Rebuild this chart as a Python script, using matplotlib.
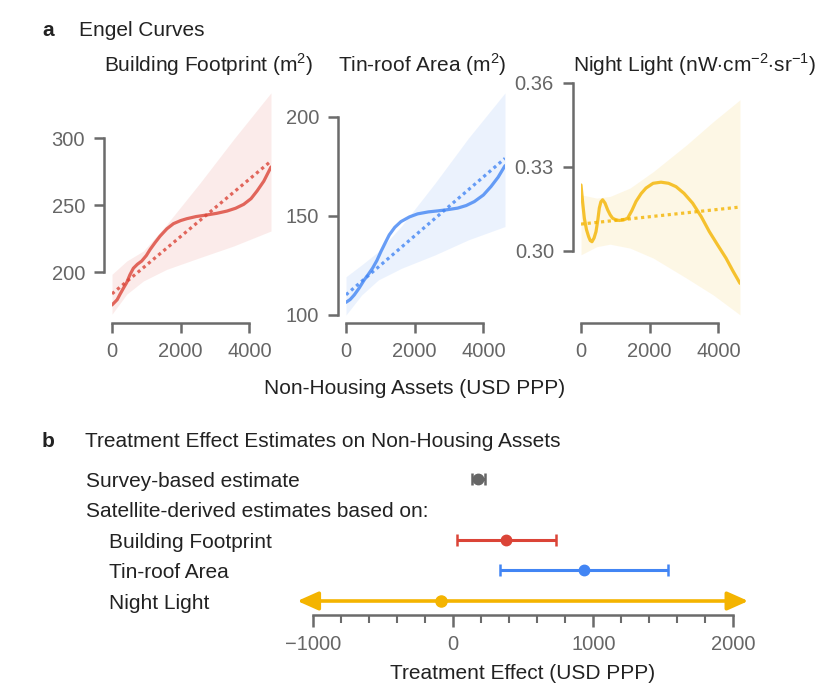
import numpy as np
import matplotlib
matplotlib.use("Agg")
import matplotlib.pyplot as plt
import matplotlib.transforms as mtransforms

plt.rcParams['font.family'] = ['Liberation Sans', 'DejaVu Sans']
plt.rcParams['mathtext.fontset'] = 'custom'
plt.rcParams['mathtext.rm'] = 'Liberation Sans'

W, H = 830, 692
fig = plt.figure(figsize=(W / 100, H / 100), dpi=100)

RED, BLUE, YELLOW, GREY = '#DB4437', '#4285F4', '#F4B400', '#666666'
SPINE = '#6b6b6b'
TXT = '#222222'

# ---------------- panel a data ----------------
fp_x = [0, 150, 234, 330, 428, 520, 622, 740, 866, 1000, 1109, 1250, 1401, 1600,
        1790, 2000, 2180, 2450, 2764, 3050, 3348, 3600, 3834, 4050, 4224, 4420, 4630]
fp_y = [175.6, 179.5, 183.6, 188, 192.3, 198, 203, 206, 208.4, 212.5, 217, 222, 227, 232.5,
        236.3, 238.6, 240, 241.6, 242.8, 244, 245.7, 247.8, 250.7, 255, 260.7, 268, 278.6]
fp_lin_x = [0, 4630]
fp_lin_y = [183.9, 283.0]
fp_band_x = [0, 428, 914, 1596, 2569, 3542, 4630]
fp_band_hi = [198.5, 208.4, 215.9, 235.8, 266.9, 299.3, 334.0]
fp_band_lo = [168.7, 183.6, 193.5, 202.2, 211.0, 219.6, 230.8]

tin_x = [0, 120, 240, 380, 531, 650, 774, 900, 1017, 1140, 1260, 1420, 1600, 1850,
         2086, 2400, 2669, 2950, 3250, 3500, 3737, 4000, 4223, 4430, 4630]
tin_y = [106.4, 107.8, 110.1, 113.5, 117.7, 120.5, 123.6, 127.5, 132, 136.3, 140.4, 144.2, 147.1, 149.5,
         151, 152, 152.5, 153.1, 153.9, 155.2, 157.2, 160.5, 164.8, 169.5, 175.3]
tin_lin_x = [0, 4630]
tin_lin_y = [110.2, 179.0]
tin_band_x = [0, 457, 943, 1622, 2592, 3564, 4630]
tin_band_hi = [119.3, 125.3, 132.0, 145.0, 166.5, 189.2, 212.0]
tin_band_lo = [100.0, 110.1, 117.7, 123.6, 130.3, 137.9, 144.6]

nl_x = [0, 50, 97, 160, 222, 270, 320, 380, 437, 490, 533, 580, 630, 700, 776, 850, 921,
        1020, 1115, 1240, 1358, 1480, 1602, 1750, 1893, 2100, 2330, 2550, 2767, 3000,
        3250, 3500, 3737, 3980, 4223, 4420, 4630]
nl_y = [0.3235, 0.3170, 0.3116, 0.3075, 0.3050, 0.3036, 0.3032, 0.3045, 0.3068, 0.3110,
        0.3152, 0.3175, 0.3182, 0.3170, 0.3146, 0.3128, 0.3116, 0.3110, 0.3108, 0.3110,
        0.3116, 0.3143, 0.3176, 0.3204, 0.3224, 0.3241, 0.3245, 0.3241, 0.3229, 0.3205,
        0.3170, 0.3122, 0.3068, 0.3020, 0.2973, 0.2928, 0.2883]
nl_lin_x = [0, 4630]
nl_lin_y = [0.3095, 0.3156]
nl_band_x = [0, 457, 845, 1427, 2107, 3078, 3853, 4630]
nl_band_hi = [0.3200, 0.3188, 0.3194, 0.3224, 0.3283, 0.3379, 0.3462, 0.3540]
nl_band_lo = [0.2985, 0.3014, 0.3023, 0.3009, 0.2973, 0.2901, 0.2841, 0.2770]

# ---------------- panel b data ----------------
row_labels = ['Survey-based estimate', 'Building Footprint', 'Tin-roof Area', 'Night Light']
row_pos = [4, 2, 1, 0]
est = [178, 376, 934, -90]
ci_lo = [133, 24, 333, -1114]
ci_hi = [228, 731, 1531, 2107]
row_colors = [GREY, RED, BLUE, YELLOW]


def px_axes(l, t, r, b):
    return fig.add_axes([l / W, 1 - b / H, (r - l) / W, (b - t) / H])


def style_axes(ax, xb, yb):
    for s in ['top', 'right']:
        ax.spines[s].set_visible(False)
    for s in ['left', 'bottom']:
        ax.spines[s].set_position(('outward', 6))
        ax.spines[s].set_linewidth(1.8)
        ax.spines[s].set_color(SPINE)
    ax.spines['bottom'].set_bounds(*xb)
    ax.spines['left'].set_bounds(*yb)
    ax.tick_params(length=7.5, width=1.8, color=SPINE, labelcolor='#666666',
                   labelsize=14.5, pad=6)
    ax.set_facecolor('none')


panels = [
    (112, 346, fp_x, fp_y, fp_lin_x, fp_lin_y, fp_band_x, fp_band_hi, fp_band_lo, RED,
     (168.1, 341.3), [200, 250, 300], None, 'Building Footprint (m$^2$)'),
    (346, 505, tin_x, tin_y, tin_lin_x, tin_lin_y, tin_band_x, tin_band_hi, tin_band_lo, BLUE,
     (100, 217), [100, 150, 200], None, 'Tin-roof Area (m$^2$)'),
    (581, 740, nl_x, nl_y, nl_lin_x, nl_lin_y, nl_band_x, nl_band_hi, nl_band_lo, YELLOW,
     (0.27696, 0.36), [0.30, 0.33, 0.36], '{:.2f}',
     'Night Light (nW$\\cdot$cm$^{-2}$$\\cdot$sr$^{-1}$)'),
]

for left, _, sx, sy, lx, ly, bx, bhi, blo, col, ylim, yt, fmt, title in panels:
    ax = px_axes(left, 83, left + 159, 315)
    ax.fill_between(bx, blo, bhi, color=col, alpha=0.1, lw=0)
    ax.plot(lx, ly, color=col, alpha=0.8, lw=2.3, linestyle=(0, (1, 1.1)))
    ax.plot(sx, sy, color=col, alpha=0.8, lw=2.3, solid_capstyle='round')
    ax.set_xlim(0, 4630)
    ax.set_ylim(*ylim)
    ax.set_xticks([0, 2000, 4000])
    ax.set_yticks(yt)
    if fmt:
        ax.set_yticklabels([fmt.format(v) for v in yt])
    style_axes(ax, (0, 4000), (yt[0], yt[-1]))
    fig.text((left - 8) / W, 1 - 72 / H, title, fontsize=15, color=TXT, va='baseline')

fig.text(42 / W, 1 - 36 / H, 'a', fontsize=15, fontweight='bold', color=TXT, va='baseline')
fig.text(79 / W, 1 - 36 / H, 'Engel Curves', fontsize=15, color=TXT, va='baseline')
fig.text(414.5 / W, 1 - 394 / H, 'Non-Housing Assets (USD PPP)', fontsize=15, color=TXT,
         va='baseline', ha='center')

# ---------------- panel b ----------------
axb = px_axes(296.5, 470, 749.4, 615)
axb.set_xlim(-1120, 2115)
axb.set_ylim(-0.459, 4.295)
for s in ['top', 'right', 'left']:
    axb.spines[s].set_visible(False)
axb.spines['bottom'].set_linewidth(1.8)
axb.spines['bottom'].set_color(SPINE)
axb.spines['bottom'].set_bounds(-1000, 2000)
axb.set_yticks([])
axb.set_xticks([-1000, 0, 1000, 2000])
axb.set_xticks(np.arange(-1000, 2001, 200), minor=True)
axb.tick_params(axis='x', which='major', length=8.5, width=1.8, color=SPINE,
                labelcolor='#666666', labelsize=14.5, pad=6)
axb.tick_params(axis='x', which='minor', length=5.5, width=1.5, color=SPINE)
axb.set_xlabel('Treatment Effect (USD PPP)', fontsize=15, color=TXT, labelpad=7)
axb.set_facecolor('none')

for i in range(3):
    axb.errorbar(est[i], row_pos[i], xerr=[[est[i] - ci_lo[i]], [ci_hi[i] - est[i]]],
                 fmt='o', color=row_colors[i], ms=7.5, elinewidth=2.2, capsize=4,
                 capthick=1.8, clip_on=False)

axb.annotate('', xy=(ci_lo[3], row_pos[3]), xytext=(ci_hi[3], row_pos[3]),
             arrowprops=dict(arrowstyle='<|-|>,head_length=0.9,head_width=0.4',
                             color=YELLOW, lw=2.6, mutation_scale=14,
                             shrinkA=0, shrinkB=0), annotation_clip=False)
axb.plot(est[3], row_pos[3], 'o', color=YELLOW, ms=8, clip_on=False)

btr = mtransforms.blended_transform_factory(fig.transFigure, axb.transData)
off = mtransforms.ScaledTranslation(0, -7.6 / 100, fig.dpi_scale_trans)
label_x = [86, 109, 109, 109]
for lab, pos, lx in zip(row_labels, row_pos, label_x):
    fig.text(lx / W, pos, lab, fontsize=15, color=TXT, va='baseline',
             transform=btr + off)
fig.text(86 / W, 3, 'Satellite-derived estimates based on:', fontsize=15, color=TXT,
         va='baseline', transform=btr + off)

fig.text(42 / W, 1 - 447 / H, 'b', fontsize=15, fontweight='bold', color=TXT, va='baseline')
fig.text(85 / W, 1 - 447 / H, 'Treatment Effect Estimates on Non-Housing Assets',
         fontsize=15, color=TXT, va='baseline')

fig.savefig('out.png', dpi=100)
